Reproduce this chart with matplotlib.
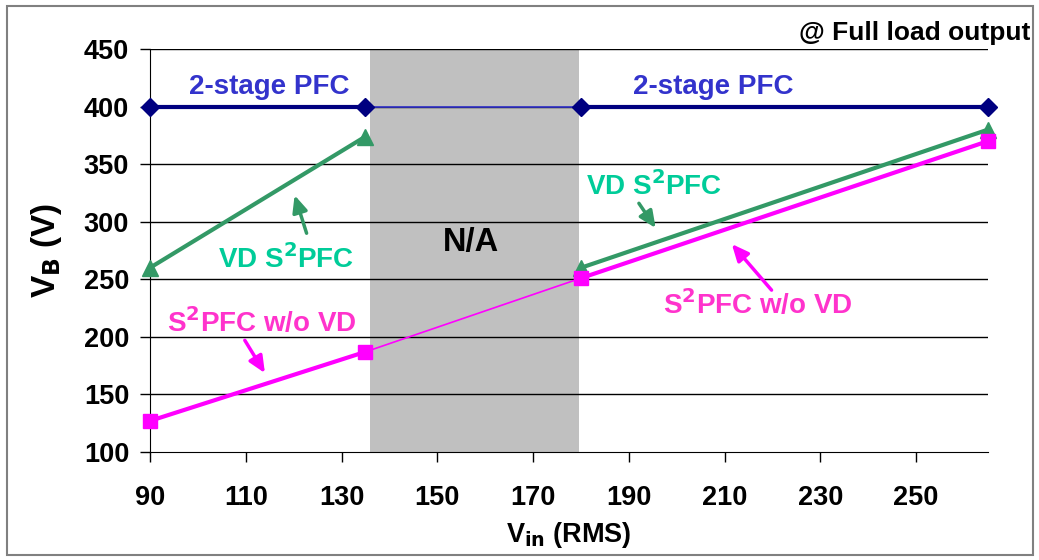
import matplotlib
matplotlib.use("Agg")
import matplotlib.pyplot as plt
from matplotlib.patches import Rectangle

plt.rcParams['font.family'] = ['Liberation Sans', 'DejaVu Sans']
plt.rcParams['font.weight'] = 'bold'
plt.rcParams['mathtext.default'] = 'bf'

vin = [90, 135, 180, 265]
two_stage = [400, 400, 400, 400]
vd_s2pfc = [260, 374, 260, 380]
s2pfc_wo_vd = [127, 187, 251, 370]
na_range = (136, 179.5)
xticks = [90, 110, 130, 150, 170, 190, 210, 230, 250]
yticks = [100, 150, 200, 250, 300, 350, 400, 450]

NAVY = '#000080'
GREEN = '#339966'
MAGENTA = '#FF00FF'
BLUE_TXT = '#3333CC'
GREEN_TXT = '#00CC99'
MAG_TXT = '#FF33CC'

fig = plt.figure(figsize=(10.39, 5.6), dpi=100)
ax = fig.add_axes([150/1039, 1-452/560, (988-150)/1039, (452-49)/560])

ax.set_xlim(90, 265)
ax.set_ylim(100, 450)

ax.axvspan(na_range[0], na_range[1], color='#C0C0C0', zorder=1, lw=0)
for y in yticks[1:]:
    ax.axhline(y, color='black', lw=1, zorder=2)

# thin connectors across N/A region
ax.plot(vin[1:3], two_stage[1:3], color='#3333CC', lw=1.2, zorder=3)
ax.plot(vin[1:3], s2pfc_wo_vd[1:3], color=MAGENTA, lw=1.2, zorder=3)

for seg in [(0, 2), (2, 4)]:
    s = slice(*seg)
    ax.plot(vin[s], two_stage[s], color=NAVY, lw=3, marker='D', ms=9, zorder=5, clip_on=False)
    ax.plot(vin[s], vd_s2pfc[s], color=GREEN, lw=3, marker='^', ms=12, zorder=5, clip_on=False)
    ax.plot(vin[s], s2pfc_wo_vd[s], color=MAGENTA, lw=3, marker='s', ms=10, zorder=6, clip_on=False)

ax.set_xticks(xticks)
ax.set_yticks(yticks)
ax.tick_params(axis='both', labelsize=19.5, length=7, width=1, direction='out', colors='black')
ax.tick_params(axis='x', pad=17)
ax.tick_params(axis='y', pad=8)
for lab in ax.get_xticklabels() + ax.get_yticklabels():
    lab.set_fontweight('bold')
ax.spines['top'].set_visible(False)
ax.spines['right'].set_visible(False)
ax.spines['left'].set_color('black')
ax.spines['bottom'].set_color('black')

ax.set_ylabel(r'V$_\mathbf{B}$ (V)', fontsize=24, fontweight='bold', labelpad=14)
ax.set_xlabel(r'V$_\mathbf{in}$ (RMS)', fontsize=19.5, fontweight='bold', labelpad=6)

TS = 20
ax.text(115, 417, '2-stage PFC', color=BLUE_TXT, fontsize=TS, fontweight='bold', ha='center', va='center', zorder=7)
ax.text(207.7, 417, '2-stage PFC', color=BLUE_TXT, fontsize=TS, fontweight='bold', ha='center', va='center', zorder=7)
ax.text(157, 282, 'N/A', color='black', fontsize=23.5, fontweight='bold', ha='center', va='center', zorder=7)

ax.text(118.5, 268, r'VD S$^\mathbf{2}$PFC', color=GREEN_TXT, fontsize=TS, fontweight='bold', ha='center', va='center', zorder=7)
ax.text(195.2, 331, r'VD S$^\mathbf{2}$PFC', color=GREEN_TXT, fontsize=TS, fontweight='bold', ha='center', va='center', zorder=7)
ax.text(113.3, 212, r'S$^\mathbf{2}$PFC w/o VD', color=MAG_TXT, fontsize=TS, fontweight='bold', ha='center', va='center', zorder=7)
ax.text(217, 228, r'S$^\mathbf{2}$PFC w/o VD', color=MAG_TXT, fontsize=TS, fontweight='bold', ha='center', va='center', zorder=7)

arrow_kw = dict(arrowstyle='-|>,head_length=1.0,head_width=0.45', lw=2.5, shrinkA=0, shrinkB=0)
ax.annotate('', xy=(120.2, 323), xytext=(122.7, 290), arrowprops=dict(color=GREEN, **arrow_kw), zorder=7)
ax.annotate('', xy=(195.6, 294.5), xytext=(192.1, 316), arrowprops=dict(color=GREEN, **arrow_kw), zorder=7)
ax.annotate('', xy=(114, 168.5), xytext=(109.8, 197), arrowprops=dict(color=MAGENTA, **arrow_kw), zorder=7)
ax.annotate('', xy=(211.5, 280.6), xytext=(219.8, 240.6), arrowprops=dict(color=MAGENTA, **arrow_kw), zorder=7)

fig.text(1030/1039, 1-33/560, '@ Full load output', fontsize=19, fontweight='bold', ha='right', va='center')

fig.patches.append(Rectangle((7/1039, 5/560), 1026/1039, 549/560, transform=fig.transFigure,
                             fill=False, edgecolor='#808080', lw=1.5))

fig.savefig('out.png', dpi=100)
